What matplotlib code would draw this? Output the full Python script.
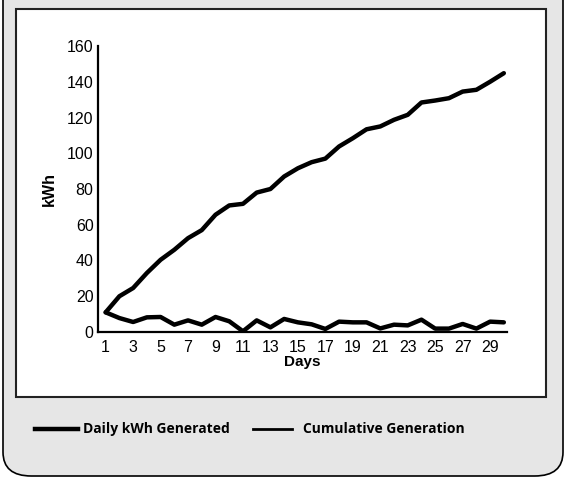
import matplotlib
matplotlib.use("Agg")
from matplotlib import pyplot as plt
from matplotlib.patches import FancyBboxPatch, Rectangle
from matplotlib.lines import Line2D

days = list(range(1, 31))
daily_kwh = [11, 7.8, 5.6, 8.2, 8.4, 4.1, 6.5, 4.1, 8.4, 6.0,
             0.4, 6.5, 2.6, 7.3, 5.4, 4.3, 1.7, 5.8, 5.4, 5.4,
             2.0, 4.1, 3.7, 6.9, 1.9, 1.9, 4.5, 1.9, 5.8, 5.4]
cumulative = [11, 20, 24.6, 33, 40.4, 46, 52.5, 57, 65.6, 70.8,
              71.7, 78, 80, 87, 91.6, 95, 97, 103.8, 108.4, 113.4,
              115, 118.7, 121.5, 128.4, 129.5, 130.8, 134.5, 135.5, 140, 144.8]
x_ticks = list(range(1, 30, 2))
y_ticks = list(range(0, 161, 20))
legend_labels = ["Daily kWh Generated", "Cumulative Generation"]

W, H = 566, 478
fig = plt.figure(figsize=(W / 100, H / 100), dpi=100)
fig.patch.set_facecolor("white")


def fx(px):
    return px / W


def fy(py):
    return 1 - py / H


# outer rounded panel (grey halftone look)
outer = FancyBboxPatch((fx(3), fy(476)), fx(560), fy(-30) - fy(476) + 0.1,
                       boxstyle="round,pad=0,rounding_size=0.05",
                       transform=fig.transFigure, facecolor="#e6e6e6",
                       edgecolor="black", linewidth=1.2, zorder=0)
fig.patches.append(outer)
inner = Rectangle((fx(16), fy(397)), fx(546) - fx(16), fy(9) - fy(397),
                  transform=fig.transFigure, facecolor="white",
                  edgecolor="#222222", linewidth=1.5, zorder=1)
fig.patches.append(inner)

ax = fig.add_axes([fx(97.7), fy(332), fx(507) - fx(97.7), fy(46) - fy(332)])
ax.set_facecolor("none")
ax.set_zorder(2)

for series in (daily_kwh, cumulative):
    ax.plot(days, series, color="black", lw=3.2,
            solid_capstyle="round", solid_joinstyle="round")

ax.set_xlim(0.42, 30.23)
ax.set_ylim(0, 160)
ax.set_xticks(x_ticks)
ax.set_yticks(y_ticks)
tick_font = {"family": "Liberation Sans", "size": 11.5}
ax.set_xticklabels([str(t) for t in x_ticks], fontdict=tick_font)
ax.set_yticklabels([str(t) for t in y_ticks], fontdict=tick_font)
ax.tick_params(axis="both", length=0)
ax.tick_params(axis="y", pad=3)
ax.tick_params(axis="x", pad=6)
for s in ("top", "right"):
    ax.spines[s].set_visible(False)
for s in ("left", "bottom"):
    ax.spines[s].set_linewidth(1.6)
ax.set_xlabel("Days", family="Liberation Sans", weight="bold", size=11, labelpad=0)
ax.set_ylabel("kWh", family="Liberation Sans", weight="bold", size=11.5, labelpad=7)

# legend in the grey band
lw_leg = [3.2, 2.0]
line_x = [(35, 78), (253, 292)]
text_x = [83, 303]
for lbl, (x0, x1), tx, lw in zip(legend_labels, line_x, text_x, lw_leg):
    fig.add_artist(Line2D([fx(x0), fx(x1)], [fy(429), fy(429)],
                          transform=fig.transFigure, color="black", lw=lw))
    fig.text(fx(tx), fy(429), lbl, family="Open Sans", weight="bold",
             size=10, va="center", ha="left")

fig.savefig("out.png", dpi=100)
